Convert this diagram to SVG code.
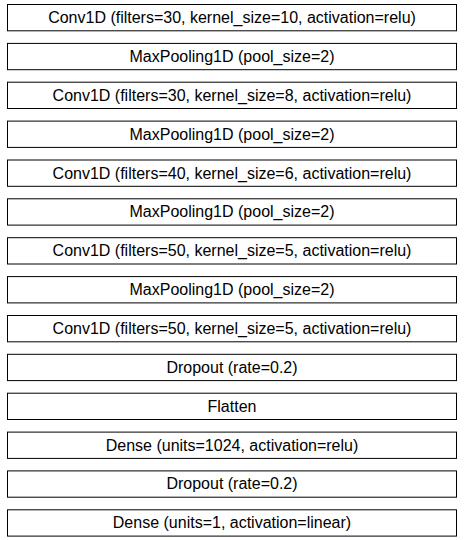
<svg xmlns="http://www.w3.org/2000/svg" width="464" height="540" viewBox="0 0 464 540">
  <style>
    .box rect { fill: #ffffff; stroke: #000000; stroke-width: 1; }
    .box text { font-family: "Liberation Sans", Arial, sans-serif; font-size: 16px; fill: #000000; text-anchor: middle; }
  </style>
  <rect width="464" height="540" fill="#ffffff"/>
  <g id="connectors"></g>
  <g id="n1" class="box"><rect x="7.5" y="4.5" width="449" height="26.3"/><text x="232" y="23">Conv1D (filters=30, kernel_size=10, activation=relu)</text></g>
  <g id="n2" class="box"><rect x="7.5" y="43.4" width="449" height="26.3"/><text x="232" y="61.9">MaxPooling1D (pool_size=2)</text></g>
  <g id="n3" class="box"><rect x="7.5" y="82.2" width="449" height="26.3"/><text x="232" y="100.7">Conv1D (filters=30, kernel_size=8, activation=relu)</text></g>
  <g id="n4" class="box"><rect x="7.5" y="121.1" width="449" height="26.3"/><text x="232" y="139.6">MaxPooling1D (pool_size=2)</text></g>
  <g id="n5" class="box"><rect x="7.5" y="160.0" width="449" height="26.3"/><text x="232" y="178.5">Conv1D (filters=40, kernel_size=6, activation=relu)</text></g>
  <g id="n6" class="box"><rect x="7.5" y="198.8" width="449" height="26.3"/><text x="232" y="217.3">MaxPooling1D (pool_size=2)</text></g>
  <g id="n7" class="box"><rect x="7.5" y="237.7" width="449" height="26.3"/><text x="232" y="256.2">Conv1D (filters=50, kernel_size=5, activation=relu)</text></g>
  <g id="n8" class="box"><rect x="7.5" y="276.6" width="449" height="26.3"/><text x="232" y="295.1">MaxPooling1D (pool_size=2)</text></g>
  <g id="n9" class="box"><rect x="7.5" y="315.5" width="449" height="26.3"/><text x="232" y="334">Conv1D (filters=50, kernel_size=5, activation=relu)</text></g>
  <g id="n10" class="box"><rect x="7.5" y="354.3" width="449" height="26.3"/><text x="232" y="372.8">Dropout (rate=0.2)</text></g>
  <g id="n11" class="box"><rect x="7.5" y="393.2" width="449" height="26.3"/><text x="232" y="411.7">Flatten</text></g>
  <g id="n12" class="box"><rect x="7.5" y="432.1" width="449" height="26.3"/><text x="232" y="450.6">Dense (units=1024, activation=relu)</text></g>
  <g id="n13" class="box"><rect x="7.5" y="470.9" width="449" height="26.3"/><text x="232" y="489.4">Dropout (rate=0.2)</text></g>
  <g id="n14" class="box"><rect x="7.5" y="509.8" width="449" height="26.3"/><text x="232" y="528.3">Dense (units=1, activation=linear)</text></g>
</svg>
